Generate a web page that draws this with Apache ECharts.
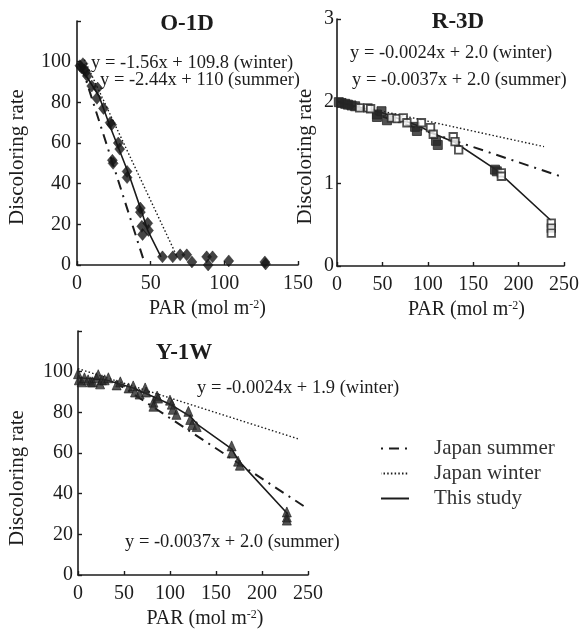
<!DOCTYPE html>
<html>
<head>
<meta charset="utf-8">
<script src="https://cdn.jsdelivr.net/npm/echarts@6/dist/echarts.min.js"></script>
<style>
html,body{margin:0;padding:0;background:#fff;}
#c{width:582px;height:635px;}
</style>
</head>
<body>
<div id="c"></div>
<script>
// ---------- Panel O-1D ----------
const o1dX = [2,3,4,5,6,7,10,14,13.5,18,22.5,23.5,28,29,24,24.5,34,34,43,43,44,44.5,48,48.5,58,65,70,74.5,78,88,89,92,103,127.5,128];
const o1dY = [98,97,99,96,95,93,88,87,82,77,70,69,60,57,51.5,50,46,43,28,26,19,15,20.5,17,4,4,5,5,1.5,4,0,4,2,1.5,0.5];
const o1dStudyX = [1,15,22,35,44,48,57];
const o1dStudyY = [99,83,69,45,26,17,4];
const o1dSummerX = [3,45];
const o1dSummerY = [98,3];
const o1dWinterX = [5,68];
const o1dWinterY = [101,4];

// ---------- Panel R-3D ----------
const r3dFilledX = [2,5,9,12,16,20,44,44,49,55,86,88,109,111,174,176];
const r3dFilledY = [1.99,1.98,1.97,1.96,1.95,1.94,1.84,1.81,1.88,1.77,1.69,1.64,1.52,1.47,1.17,1.15];
const r3dOpenX = [25,34,37,60,66,73,77,93,103,106,128,130,134,181,181,236,236,236];
const r3dOpenY = [1.92,1.92,1.91,1.80,1.79,1.80,1.74,1.74,1.68,1.60,1.57,1.51,1.41,1.13,1.09,0.52,0.46,0.40];
const r3dStudyX = [2,50,90,110,130,175,236];
const r3dStudyY = [1.99,1.86,1.70,1.59,1.50,1.17,0.55];
const r3dSummerX = [0,250];
const r3dSummerY = [2.0,1.075];
const r3dWinterX = [0,228];
const r3dWinterY = [2.0,1.45];

// ---------- Panel Y-1W ----------
const y1wX = [0,1,4,7,11,14,16,20,22,24,26,29,33,42,46,55,60,62,67,73,74,82,82,86,87,100,102,103,107,120,122,124,129,167,167,174,176,227,227,227];
const y1wY = [99,96,95,97,96,95,95,97,98.5,94,96,96,97,93.5,95,92,93,90,89,92,90,85,83,88,87,86,84,81.5,79,80.5,76.5,74,73,63.5,60,56,54,31,28.5,27];
const y1wStudyX = [0,30,60,85,100,122,130,167,175,228];
const y1wStudyY = [97,96,92,87,84,78,74,62,56,30];
const y1wSummerX = [40,250];
const y1wSummerY = [95,32.5];
const y1wWinterX = [0,239];
const y1wWinterY = [101.5,67];

// ---------- Texts ----------
const panelTitles = ['O-1D','R-3D','Y-1W'];
const equations = [
  'y = -1.56x + 109.8 (winter)',
  'y = -2.44x + 110 (summer)',
  'y = -0.0024x + 2.0 (winter)',
  'y = -0.0037x + 2.0 (summer)',
  'y = -0.0024x + 1.9 (winter)',
  'y = -0.0037x + 2.0 (summer)'
];
const legendNames = ['Japan summer','Japan winter','This study'];
const yName = 'Discoloring rate';
const xName = 'PAR (mol m{sup|-2})';

const zip = (a,b) => a.map((v,i)=>[v,b[i]]);
const INK = '#1c1c1c';
const FONT = '"Liberation Serif", "Times New Roman", serif';

function xAx(gi, max, interval, shift) {
  return {
    type:'value', gridIndex:gi, min:0, max:max, interval:interval,
    name:xName, nameLocation:'middle', nameGap:34,
    nameTextStyle:{fontFamily:FONT, fontSize:20, color:INK, padding:[0,0,0,shift],
      rich:{sup:{fontFamily:FONT, fontSize:12, color:INK, verticalAlign:'top', padding:[0,0,8,0]}}},
    axisLine:{show:true, onZero:false, lineStyle:{color:INK, width:1.6}},
    axisTick:{show:true, inside:true, length:4, lineStyle:{color:INK, width:1.4}},
    axisLabel:{fontFamily:FONT, fontSize:20, color:INK, margin:9},
    splitLine:{show:false}
  };
}
function yAx(gi, max, interval, hideTop, gap, shift, margin) {
  return {
    type:'value', gridIndex:gi, min:0, max:max, interval:interval,
    name:yName, nameLocation:'middle', nameGap:gap, nameRotate:90,
    nameTextStyle:{fontFamily:FONT, fontSize:21, color:INK, padding:[0,shift,0,0]},
    axisLine:{show:true, onZero:false, lineStyle:{color:INK, width:1.6}},
    axisTick:{show:true, inside:true, length:4, lineStyle:{color:INK, width:1.4}},
    axisLabel:{fontFamily:FONT, fontSize:20, color:INK, margin:margin,
      formatter: v => (hideTop && v === max) ? '' : String(v)},
    splitLine:{show:false}
  };
}

const summerStyle = {color:INK, width:2, type:[10,6,2,6]};
const winterStyle = {color:INK, width:1.4, type:[1.5,2.2]};
const studyStyle = {color:INK, width:1.6, type:'solid'};

function lines(gi, sx, sy, wx, wy, tx, ty) {
  return [
    {name:legendNames[0], type:'line', xAxisIndex:gi, yAxisIndex:gi, data:zip(sx,sy), symbol:'none', lineStyle:summerStyle, itemStyle:{color:INK}, z:3},
    {name:legendNames[1], type:'line', xAxisIndex:gi, yAxisIndex:gi, data:zip(wx,wy), symbol:'none', lineStyle:winterStyle, itemStyle:{color:INK}, z:3},
    {name:legendNames[2], type:'line', xAxisIndex:gi, yAxisIndex:gi, data:zip(tx,ty), symbol:'none', lineStyle:studyStyle, itemStyle:{color:INK}, z:3}
  ];
}

const series = [
  {name:'O-1D data', type:'scatter', xAxisIndex:0, yAxisIndex:0, data:zip(o1dX,o1dY), symbol:'diamond', symbolSize:[10,12], itemStyle:{color:'#151515', borderColor:'#151515', borderWidth:0.5}, z:4},
  {name:'R-3D filled', type:'scatter', xAxisIndex:1, yAxisIndex:1, data:zip(r3dFilledX,r3dFilledY), symbol:'rect', symbolSize:9, itemStyle:{color:'#262626', borderColor:'#262626', borderWidth:1}, z:4},
  {name:'R-3D open', type:'scatter', xAxisIndex:1, yAxisIndex:1, data:zip(r3dOpenX,r3dOpenY), symbol:'rect', symbolSize:7.5, itemStyle:{color:'#ffffff', borderColor:'#262626', borderWidth:1.8}, z:4},
  {name:'Y-1W data', type:'scatter', xAxisIndex:2, yAxisIndex:2, data:zip(y1wX,y1wY), symbol:'triangle', symbolSize:[9,10], itemStyle:{color:'#2a2a2a', borderColor:'#1a1a1a', borderWidth:0.8}, z:4},
  ...lines(0, o1dSummerX,o1dSummerY,o1dWinterX,o1dWinterY,o1dStudyX,o1dStudyY),
  ...lines(1, r3dSummerX,r3dSummerY,r3dWinterX,r3dWinterY,r3dStudyX,r3dStudyY),
  ...lines(2, y1wSummerX,y1wSummerY,y1wWinterX,y1wWinterY,y1wStudyX,y1wStudyY)
];

function txt(x, y, text, size, bold, align) {
  return {type:'text', x:x, y:y, z:10, silent:true,
    style:{text:text, fill:INK, align:align||'left', verticalAlign:'middle',
      font:(bold?'bold ':'') + size + 'px ' + FONT}};
}

const option = {
  animation:false,
  backgroundColor:'#ffffff',
  grid:[
    {left:77, top:21, width:221, height:244},
    {left:337, top:19, width:231, height:247},
    {left:78, top:331, width:230, height:244}
  ],
  xAxis:[xAx(0,150,50,40), xAx(1,250,50,32), xAx(2,250,50,24)],
  yAxis:[yAx(0,120,20,true,49,28,6), yAx(1,3,1,false,21,28,3), yAx(2,120,20,true,50,50,5)],
  legend:{
    data:legendNames, orient:'vertical', left:375, top:433,
    itemWidth:28, itemHeight:14, itemGap:4,
    itemStyle:{opacity:0, color:'transparent', borderWidth:0},
    lineStyle:{dashOffset:16},
    textStyle:{fontFamily:FONT, fontSize:21, color:'#333', padding:[0,0,0,20]}
  },
  graphic:[
    txt(187,24,panelTitles[0],23,true,'center'),
    txt(458,22,panelTitles[1],23,true,'center'),
    txt(184,353,panelTitles[2],23,true,'center'),
    txt(91,63,equations[0],18.5,false),
    txt(100,80,equations[1],18.5,false),
    txt(350,53,equations[2],18.5,false),
    txt(352,80,equations[3],18.5,false),
    txt(197,388,equations[4],18.5,false),
    txt(125,542,equations[5],18.5,false)
  ],
  series:series
};

const chart = echarts.init(document.getElementById('c'), null, {renderer:'canvas'});
chart.setOption(option);
</script>
</body>
</html>
